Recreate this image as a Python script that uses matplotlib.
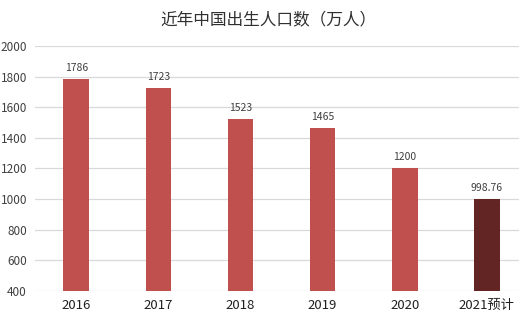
import matplotlib
matplotlib.use("Agg")
import matplotlib.pyplot as plt

plt.rcParams['font.family'] = ['Noto Sans CJK SC', 'DejaVu Sans']

# data
years = ['2016', '2017', '2018', '2019', '2020', '2021预计']
births = [1786, 1723, 1523, 1465, 1200, 998.76]
labels = ['1786', '1723', '1523', '1465', '1200', '998.76']
colors = ['#C0504D'] * 5 + ['#632523']

fig = plt.figure(figsize=(5.19, 3.23), dpi=100)
# plot area runs a bit past the right edge, like the cropped original
ax = fig.add_axes([0.068, 0.099, 0.949, 0.759])

x = range(len(years))
ax.bar(x, births, width=0.313, color=colors, zorder=2)
for i, v in enumerate(births):
    ax.text(i, v + 40, labels[i], ha='center', va='bottom', fontsize=7.5, color='#404040')

ax.set_ylim(400, 2000)
ax.set_xlim(-0.5, len(years) - 0.5)
ax.set_yticks(range(400, 2001, 200))
ax.set_xticks(list(x))
ax.set_xticklabels(years, fontsize=9.5, color='#202020')
ax.tick_params(axis='y', labelsize=8.5, colors='#404040', length=0, pad=6)
ax.tick_params(axis='x', length=0, pad=6)
ax.yaxis.grid(True, color='#D9D9D9', linewidth=0.9, zorder=0)
for s in ax.spines.values():
    s.set_visible(False)

fig.suptitle('近年中国出生人口数（万人）', x=0.517, y=0.965, fontsize=12, color='#303030')

fig.savefig('out.png', dpi=100)
